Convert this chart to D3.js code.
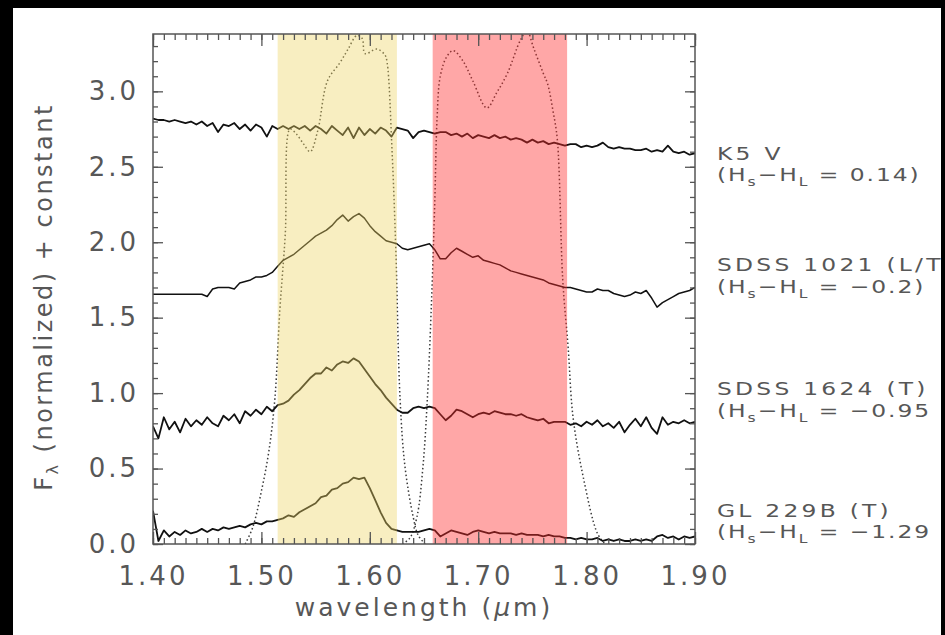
<!DOCTYPE html>
<html>
<head>
<meta charset="utf-8">
<script src="https://cdnjs.cloudflare.com/ajax/libs/d3/7.8.5/d3.min.js"></script>
<style>
  body { margin: 0; background: #000; }
  svg { display: block; }
  text { font-family: "DejaVu Sans", sans-serif; fill: #575757; }
</style>
</head>
<body>
<div id="chart"></div>
<script>
// wavelength grid of the spectra (micron)
const wlStart = 1.40, wlStep = 0.005;

// normalized flux + offset, one value per grid step (1.400 .. 1.900)
const k5v = [
  2.82,2.81,2.81,2.80,2.81,2.80,2.79,2.80,2.78,2.80,
  2.77,2.79,2.73,2.78,2.77,2.79,2.75,2.78,2.74,2.78,
  2.76,2.70,2.77,2.75,2.77,2.75,2.77,2.75,2.77,2.74,
  2.77,2.75,2.72,2.77,2.74,2.71,2.76,2.69,2.76,2.71,
  2.75,2.72,2.76,2.74,2.70,2.76,2.75,2.74,2.69,2.73,
  2.74,2.73,2.72,2.73,2.73,2.71,2.72,2.70,2.72,2.69,
  2.71,2.70,2.69,2.71,2.69,2.70,2.68,2.69,2.68,2.66,
  2.68,2.66,2.67,2.65,2.66,2.65,2.64,2.65,2.65,2.63,
  2.64,2.63,2.64,2.66,2.63,2.62,2.63,2.62,2.62,2.61,
  2.61,2.62,2.60,2.61,2.60,2.64,2.60,2.59,2.60,2.58,
  2.59
];
const sdss1021 = [
  1.655,1.655,1.655,1.655,1.655,1.655,1.655,1.655,1.655,1.655,
  1.64,1.69,1.70,1.70,1.70,1.69,1.73,1.74,1.75,1.77,
  1.77,1.78,1.80,1.84,1.88,1.90,1.92,1.95,1.98,2.01,
  2.04,2.06,2.08,2.11,2.15,2.18,2.14,2.17,2.19,2.16,
  2.11,2.07,2.04,2.01,2.00,1.99,1.96,1.95,1.96,1.97,
  1.98,1.99,1.95,1.89,1.89,1.93,1.96,1.94,1.92,1.90,
  1.91,1.88,1.87,1.86,1.85,1.83,1.81,1.80,1.79,1.78,
  1.77,1.76,1.75,1.73,1.72,1.71,1.70,1.70,1.69,1.68,
  1.67,1.67,1.69,1.68,1.68,1.66,1.65,1.64,1.65,1.67,
  1.66,1.68,1.63,1.57,1.60,1.62,1.64,1.66,1.67,1.68,
  1.70
];
const sdss1624 = [
  0.78,0.70,0.84,0.76,0.81,0.74,0.83,0.78,0.82,0.79,
  0.84,0.80,0.78,0.85,0.82,0.86,0.80,0.88,0.85,0.89,
  0.86,0.91,0.88,0.92,0.93,0.95,0.99,1.02,1.06,1.10,
  1.13,1.13,1.17,1.15,1.19,1.21,1.20,1.23,1.21,1.16,
  1.11,1.06,1.02,0.97,0.93,0.89,0.87,0.87,0.90,0.91,
  0.90,0.91,0.90,0.86,0.82,0.85,0.89,0.88,0.86,0.84,
  0.86,0.87,0.86,0.88,0.87,0.86,0.86,0.85,0.86,0.84,
  0.83,0.82,0.83,0.80,0.81,0.81,0.81,0.79,0.80,0.78,
  0.81,0.79,0.82,0.78,0.80,0.77,0.81,0.74,0.79,0.83,
  0.78,0.84,0.77,0.73,0.84,0.79,0.81,0.80,0.82,0.80,
  0.81
];
const gl229b = [
  0.22,0.02,0.09,0.05,0.08,0.06,0.09,0.07,0.08,0.10,
  0.08,0.10,0.09,0.11,0.10,0.11,0.12,0.11,0.13,0.14,
  0.13,0.15,0.15,0.16,0.17,0.19,0.18,0.21,0.23,0.25,
  0.27,0.31,0.32,0.36,0.37,0.40,0.41,0.44,0.43,0.44,
  0.37,0.29,0.21,0.14,0.10,0.09,0.08,0.08,0.08,0.08,
  0.09,0.10,0.09,0.05,0.07,0.09,0.08,0.07,0.06,0.08,
  0.09,0.08,0.07,0.08,0.07,0.07,0.07,0.06,0.07,0.06,
  0.06,0.06,0.05,0.06,0.05,0.05,0.04,0.04,0.03,0.04,
  0.03,0.03,0.04,0.02,0.03,0.02,0.03,0.02,0.02,0.03,
  0.02,0.03,0.02,0.05,0.06,0.04,0.05,0.03,0.05,0.04,
  0.05
];

// methane filter transmission curves (scaled), [wavelength, value]
const filterShort = [
  [1.485,0.00],[1.492,0.11],[1.500,0.35],[1.507,0.62],[1.5125,0.97],[1.517,1.55],
  [1.522,2.05],[1.5264,2.75],[1.532,2.72],[1.539,2.65],[1.545,2.60],[1.552,2.74],
  [1.561,3.07],[1.5725,3.19],[1.580,3.28],[1.588,3.37],[1.593,3.35],[1.5956,3.25],
  [1.6066,3.28],[1.614,3.24],[1.616,3.19],[1.6205,2.61],[1.624,1.95],[1.628,0.95],
  [1.6325,0.51],[1.640,0.18],[1.6445,0.06],[1.651,0.00]
];
const filterLong = [
  [1.630,0.00],[1.637,0.04],[1.6435,0.18],[1.649,0.51],[1.653,0.95],[1.657,1.62],
  [1.660,2.28],[1.662,2.81],[1.665,3.10],[1.671,3.23],[1.677,3.27],[1.686,3.20],
  [1.695,3.07],[1.708,2.89],[1.717,2.99],[1.727,3.12],[1.739,3.34],[1.745,3.40],
  [1.751,3.29],[1.760,3.12],[1.764,3.05],[1.769,2.87],[1.773,2.68],[1.778,1.75],
  [1.783,1.30],[1.7875,0.84],[1.797,0.44],[1.810,0.07],[1.817,0.00]
];

// filter passbands (micron)
const bandShort = [1.515, 1.625];
const bandLong = [1.658, 1.782];

const xTicks = [1.40, 1.50, 1.60, 1.70, 1.80, 1.90];
const xTickLabels = ["1.40", "1.50", "1.60", "1.70", "1.80", "1.90"];
const yTicks = [0.0, 0.5, 1.0, 1.5, 2.0, 2.5, 3.0];
const yTickLabels = ["0.0", "0.5", "1.0", "1.5", "2.0", "2.5", "3.0"];

// labels at the right (as cut off in the source picture)
const starNames = ["K5 V", "SDSS 1021 (L/T", "SDSS 1624 (T)", "GL 229B (T)"];
const colorValues = ["0.14)", "\u22120.2)", "\u22120.95", "\u22121.29"];
const labelLevels = [2.59, 1.85, 1.03, 0.225];

const width = 945, height = 635;
const plot = { left: 153, right: 695, top: 34, bottom: 544 };

const svg = d3.select('#chart').append('svg')
  .attr('width', width)
  .attr('height', height);

svg.append('rect').attr('width', width).attr('height', height).attr('fill', '#000');
svg.append('rect')
  .attr('x', 13).attr('y', 8)
  .attr('width', 928).attr('height', height - 8)
  .attr('fill', '#fff');

svg.append('clipPath').attr('id', 'plotclip')
  .append('rect')
  .attr('x', plot.left).attr('y', plot.top)
  .attr('width', plot.right - plot.left).attr('height', plot.bottom - plot.top);

svg.append('clipPath').attr('id', 'pageclip')
  .append('rect')
  .attr('x', 13).attr('y', 8).attr('width', 928).attr('height', height - 8);

const x = d3.scaleLinear().domain([1.40, 1.90]).range([plot.left, plot.right]);
const y = d3.scaleLinear().domain([0, 3.38]).range([plot.bottom, plot.top]);

const line = d3.line().x(d => x(d[0])).y(d => y(d[1]));
const toPoints = vals => vals.map((v, i) => [wlStart + i * wlStep, v]);

const inner = svg.append('g').attr('clip-path', 'url(#plotclip)');

// filter curves
const filterLine = d3.line().x(d => x(d[0])).y(d => y(d[1])).curve(d3.curveCatmullRom);
[filterShort, filterLong].forEach(f => {
  inner.append('path')
    .datum(f)
    .attr('d', filterLine)
    .attr('fill', 'none')
    .attr('stroke', '#3a3a3a')
    .attr('stroke-width', 1.5)
    .attr('stroke-dasharray', '1.5 2.5');
});

// spectra
[k5v, sdss1021, sdss1624, gl229b].forEach((s, i) => {
  inner.append('path')
    .datum(toPoints(s))
    .attr('d', line)
    .attr('fill', 'none')
    .attr('stroke', '#111')
    .attr('stroke-width', i === 1 ? 1.5 : 1.8)
    .attr('stroke-linejoin', 'round');
});

// axes (IDL style, ticks inward on all sides)
const xMinor = d3.range(140, 191).map(d => d / 100);
const yMinor = d3.range(0, 34).map(d => d / 10);
const tickStyle = g => {
  g.select('.domain').remove();
  g.selectAll('.tick line').attr('stroke', '#555').attr('stroke-width', 1.3);
};

svg.append('g').attr('transform', `translate(0,${plot.bottom})`)
  .call(d3.axisBottom(x).tickValues(xMinor).tickSize(-6).tickFormat(''))
  .call(tickStyle);
svg.append('g').attr('transform', `translate(0,${plot.top})`)
  .call(d3.axisTop(x).tickValues(xMinor).tickSize(-6).tickFormat(''))
  .call(tickStyle);
svg.append('g').attr('transform', `translate(0,${plot.top})`)
  .call(d3.axisTop(x).tickValues(xTicks).tickSize(-12).tickFormat(''))
  .call(tickStyle);
svg.append('g').attr('transform', `translate(${plot.left},0)`)
  .call(d3.axisLeft(y).tickValues(yMinor).tickSize(-5).tickFormat(''))
  .call(tickStyle);
svg.append('g').attr('transform', `translate(${plot.right},0)`)
  .call(d3.axisRight(y).tickValues(yMinor).tickSize(-5).tickFormat(''))
  .call(tickStyle);
svg.append('g').attr('transform', `translate(${plot.right},0)`)
  .call(d3.axisRight(y).tickValues(yTicks).tickSize(-10).tickFormat(''))
  .call(tickStyle);

const xAxis = svg.append('g').attr('transform', `translate(0,${plot.bottom})`)
  .call(d3.axisBottom(x).tickValues(xTicks).tickSize(-12).tickPadding(23)
    .tickFormat((d, i) => xTickLabels[i]))
  .call(tickStyle);
xAxis.selectAll('text')
  .attr('font-size', 26).attr('letter-spacing', 3).attr('fill', '#575757')
  .attr('font-family', '"DejaVu Sans", sans-serif');

const yAxis = svg.append('g').attr('transform', `translate(${plot.left},0)`)
  .call(d3.axisLeft(y).tickValues(yTicks).tickSize(-10).tickPadding(14)
    .tickFormat((d, i) => yTickLabels[i]))
  .call(tickStyle);
yAxis.selectAll('text')
  .attr('font-size', 26).attr('letter-spacing', 3).attr('fill', '#575757')
  .attr('font-family', '"DejaVu Sans", sans-serif');

// filter passbands, translucent over the spectra
inner.append('rect')
  .attr('x', x(bandShort[0])).attr('y', plot.top)
  .attr('width', x(bandShort[1]) - x(bandShort[0])).attr('height', plot.bottom - plot.top)
  .attr('fill', 'rgb(237,212,100)').attr('fill-opacity', 0.4);
inner.append('rect')
  .attr('x', x(bandLong[0])).attr('y', plot.top)
  .attr('width', x(bandLong[1]) - x(bandLong[0])).attr('height', plot.bottom - plot.top)
  .attr('fill', 'rgb(255,45,45)').attr('fill-opacity', 0.42);

// frame
svg.append('rect')
  .attr('x', plot.left).attr('y', plot.top)
  .attr('width', plot.right - plot.left).attr('height', plot.bottom - plot.top)
  .attr('fill', 'none').attr('stroke', '#555').attr('stroke-width', 1.5);

// axis titles
const xTitle = svg.append('text')
  .attr('x', (plot.left + plot.right) / 2).attr('y', 616)
  .attr('text-anchor', 'middle')
  .attr('font-size', 25).attr('letter-spacing', 3);
xTitle.append('tspan').text('wavelength (');
xTitle.append('tspan').attr('font-style', 'italic').text('\u03bc');
xTitle.append('tspan').text('m)');

const yTitle = svg.append('text')
  .attr('transform', `translate(52,${(plot.top + plot.bottom) / 2 + 8}) rotate(-90)`)
  .attr('text-anchor', 'middle')
  .attr('font-size', 24).attr('letter-spacing', 2.5);
yTitle.append('tspan').text('F');
yTitle.append('tspan').attr('font-size', 16).attr('dy', 6).text('\u03bb');
yTitle.append('tspan').attr('dy', -6).text(' (normalized) + constant');

// object labels (wide, thin lettering as in the source)
const labels = svg.append('g').attr('clip-path', 'url(#pageclip)');
starNames.forEach((name, i) => {
  const cy = y(labelLevels[i]);
  labels.append('text')
    .attr('transform', `translate(717,${cy + 6.5}) scale(1.3,1)`)
    .attr('font-size', 18).attr('letter-spacing', 2.5)
    .text(name);
  const t = labels.append('text')
    .attr('transform', `translate(717,${cy + 28}) scale(1.3,1)`)
    .attr('font-size', 18).attr('letter-spacing', 1.5);
  t.append('tspan').text('(H');
  t.append('tspan').attr('font-size', 12).attr('dy', 5).text('s');
  t.append('tspan').attr('dy', -5).text('\u2212H');
  t.append('tspan').attr('font-size', 12).attr('dy', 5).text('L');
  t.append('tspan').attr('dy', -5).text(' = ' + colorValues[i]);
});
</script>
</body>
</html>
